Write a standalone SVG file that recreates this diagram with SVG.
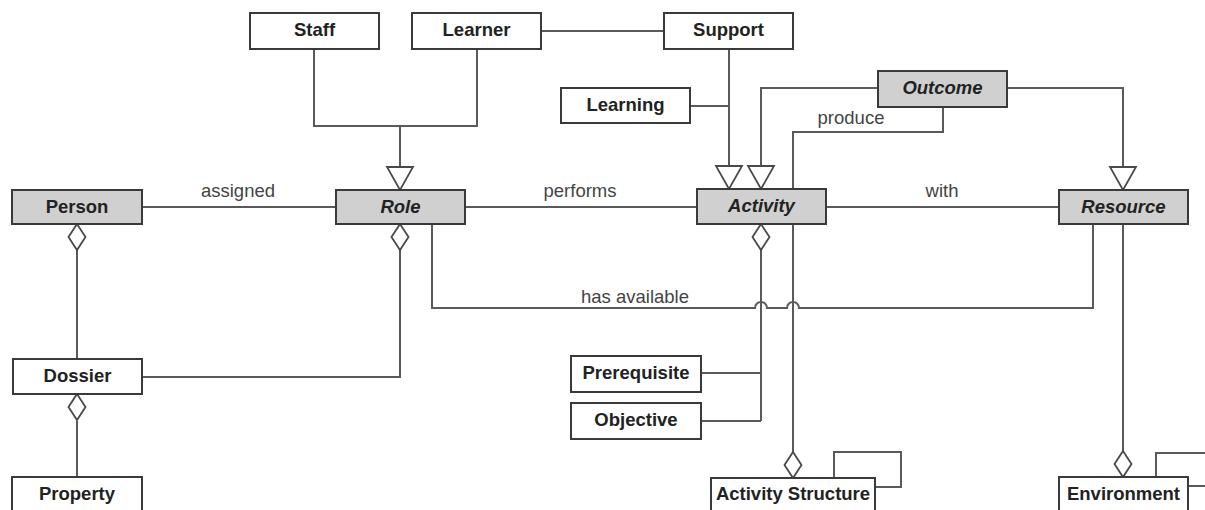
<svg xmlns="http://www.w3.org/2000/svg" xmlns:xlink="http://www.w3.org/1999/xlink" width="1205" height="510" viewBox="0 0 1205 510">
<style>
.box{fill:#fff;stroke:#3a3a3a;stroke-width:2}
.abs{fill:#d0d0d0;stroke:#3a3a3a;stroke-width:2}
.t{font-family:"Liberation Sans",Arial,sans-serif;font-size:18.5px;font-weight:bold;fill:#222;text-anchor:middle}
.ti{font-style:italic}
.lbl{font-family:"Liberation Sans",Arial,sans-serif;font-size:18.5px;fill:#444;text-anchor:middle}
.ln{fill:none;stroke:#5a5a5a;stroke-width:2}
.hd{fill:#fff;stroke:#4a4a4a;stroke-width:1.8}
</style>
<defs>
<polygon id="tri" points="-13,-23 13,-23 0,0"/>
<polygon id="dia" points="0,0 8.5,13 0,26 -8.5,13"/>
</defs>
<g id="connectors">
<path class="ln" d="M314,49 V126 H477 V49 M400,126 V168"/>
<path class="ln" d="M541,31 H664"/>
<path class="ln" d="M729,49 V167 M690,106 H729"/>
<path class="ln" d="M878,88 H761 V167"/>
<path class="ln" d="M943,107 V132 H793 V189"/>
<path class="ln" d="M1007,88 H1123 V167"/>
<path class="ln" d="M142,207 H336 M465,207 H697 M826,207 H1059"/>
<path class="ln" d="M77,250 V359 M77,421 V477"/>
<path class="ln" d="M400,250 V377 H142"/>
<path class="ln" d="M761,250 V421 M701,373 H761 M701,421 H761"/>
<path class="ln" d="M793,224 V453"/>
<path class="ln" d="M1123,224 V452"/>
<path class="ln" d="M432,224 V308 H755 A6,6 0 0 1 767,308 H787 A6,6 0 0 1 799,308 H1093 V224"/>
<path class="ln" d="M834,478 V452 H901 V487 H875"/>
<path class="ln" d="M1156,477 V453 H1210 M1188,486 H1210"/>
<use xlink:href="#tri" class="hd" transform="translate(400,190)"/>
<use xlink:href="#tri" class="hd" transform="translate(729,189)"/>
<use xlink:href="#tri" class="hd" transform="translate(761,189)"/>
<use xlink:href="#tri" class="hd" transform="translate(1123,190)"/>
<use xlink:href="#dia" class="hd" transform="translate(77,224)"/>
<use xlink:href="#dia" class="hd" transform="translate(400,224)"/>
<use xlink:href="#dia" class="hd" transform="translate(761,224)"/>
<use xlink:href="#dia" class="hd" transform="translate(77,394)"/>
<use xlink:href="#dia" class="hd" transform="translate(793,452)"/>
<use xlink:href="#dia" class="hd" transform="translate(1123,451)"/>
<text class="lbl" x="238" y="197">assigned</text>
<text class="lbl" x="580" y="197">performs</text>
<text class="lbl" x="942" y="197">with</text>
<text class="lbl" x="635" y="303">has available</text>
<text class="lbl" x="851" y="124">produce</text>
</g>
<g id="staff"><rect class="box" x="250" y="13" width="129" height="36"/><text class="t" x="314.5" y="36">Staff</text></g>
<g id="learner"><rect class="box" x="412" y="13" width="129" height="36"/><text class="t" x="476.5" y="36">Learner</text></g>
<g id="support"><rect class="box" x="664" y="13" width="129" height="36"/><text class="t" x="728.5" y="36">Support</text></g>
<g id="learning"><rect class="box" x="561" y="88" width="129" height="35"/><text class="t" x="625.5" y="111">Learning</text></g>
<g id="outcome"><rect class="abs" x="878" y="71" width="129" height="36"/><text class="t ti" x="942.5" y="94">Outcome</text></g>
<g id="person"><rect class="abs" x="12" y="190" width="130" height="34"/><text class="t" x="77" y="213">Person</text></g>
<g id="role"><rect class="abs" x="336" y="190" width="129" height="34"/><text class="t ti" x="400.5" y="213">Role</text></g>
<g id="activity"><rect class="abs" x="697" y="189" width="129" height="35"/><text class="t ti" x="761.5" y="212">Activity</text></g>
<g id="resource"><rect class="abs" x="1059" y="190" width="129" height="34"/><text class="t ti" x="1123.5" y="213">Resource</text></g>
<g id="dossier"><rect class="box" x="13" y="359" width="129" height="35"/><text class="t" x="77.5" y="382">Dossier</text></g>
<g id="prerequisite"><rect class="box" x="571" y="356" width="130" height="36"/><text class="t" x="636" y="379">Prerequisite</text></g>
<g id="objective"><rect class="box" x="571" y="403" width="130" height="36"/><text class="t" x="636" y="426">Objective</text></g>
<g id="property"><rect class="box" x="12" y="477" width="130" height="40"/><text class="t" x="77" y="500">Property</text></g>
<g id="activity-structure"><rect class="box" x="711" y="478" width="164" height="40"/><text class="t" x="793" y="500">Activity Structure</text></g>
<g id="environment"><rect class="box" x="1059" y="477" width="129" height="40"/><text class="t" x="1123.5" y="500">Environment</text></g>
</svg>
